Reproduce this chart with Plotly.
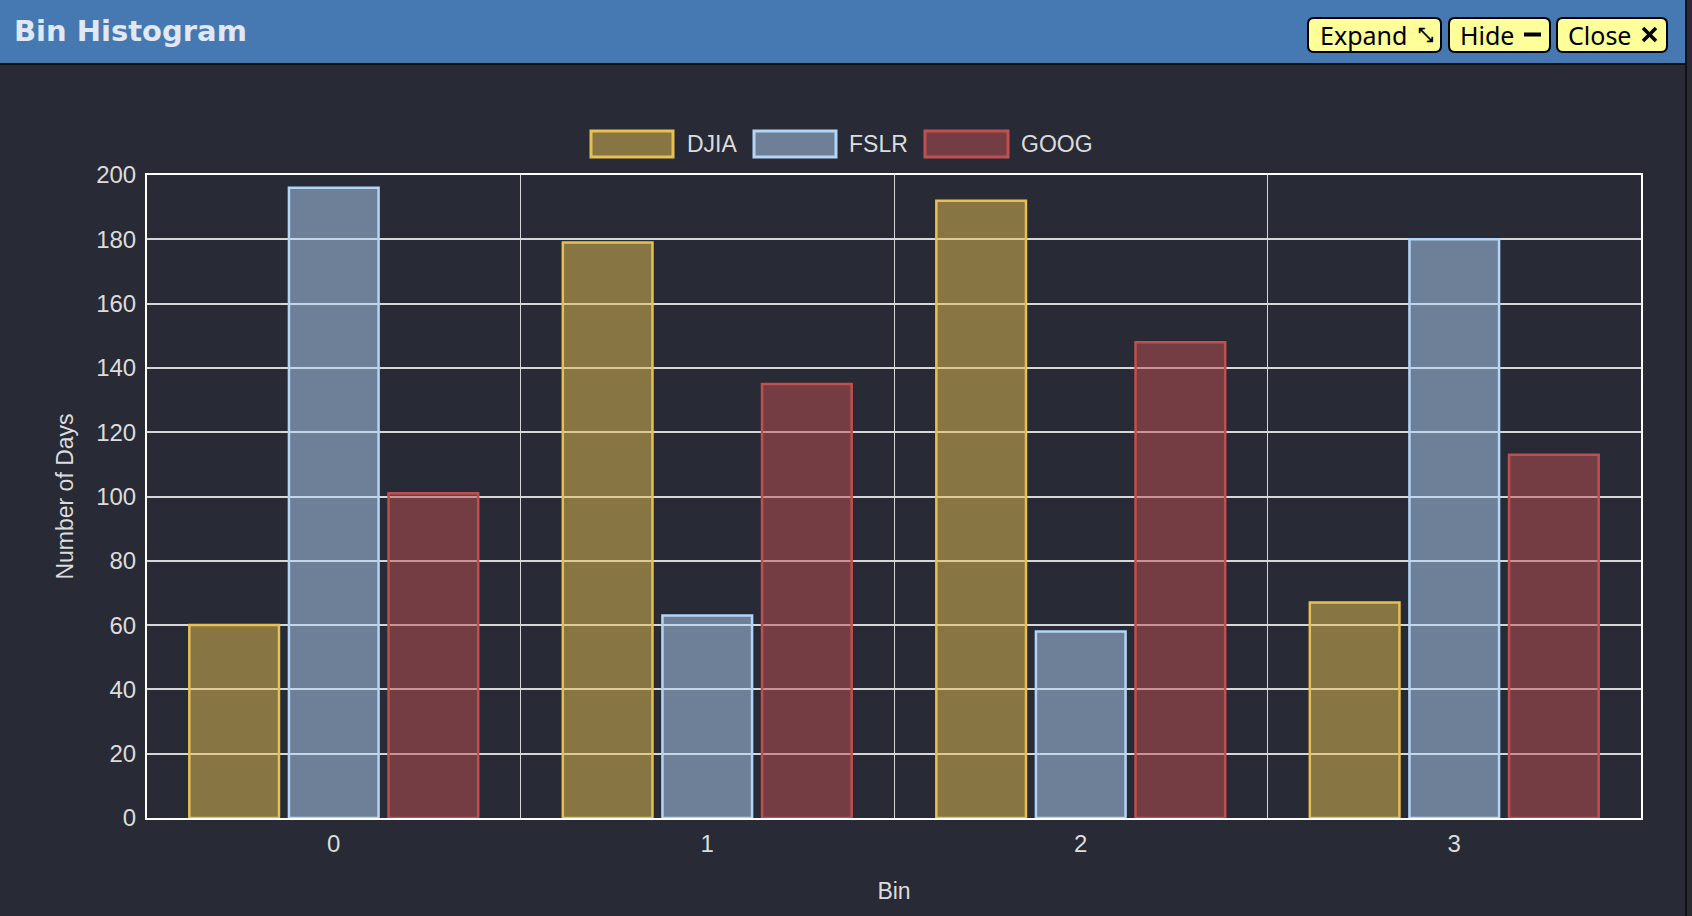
#!/usr/bin/env python3
import plotly.graph_objects as go

W, H = 1692, 916

bins = [0, 1, 2, 3]
bin_labels = ["0", "1", "2", "3"]
series_names = ["DJIA", "FSLR", "GOOG"]
djia_days = [60, 179, 192, 67]
fslr_days = [196, 63, 58, 180]
goog_days = [101, 135, 148, 113]
y_ticks = [0, 20, 40, 60, 80, 100, 120, 140, 160, 180, 200]

BG = "#282a36"
HEADER = "#4679b1"
GRID = "#d6d6da"
TEXT = "#dcdcdc"
FONT = "Liberation Sans, Arial, sans-serif"

line_colors = {"DJIA": "#e6c050", "FSLR": "#b3d5f7", "GOOG": "#c0504f"}

# pin the graph div to the top-left corner of the window
PIN_JS = """
var gd = document.getElementById('{plot_id}');
document.documentElement.style.overflow = 'hidden';
document.body.style.margin = '0';
document.body.style.overflow = 'hidden';
document.body.style.background = '#282a36';
gd.style.position = 'fixed';
gd.style.top = '0px';
gd.style.left = '0px';
"""


def fx(x):
    return x / W


def fy(y):
    return 1 - y / H


def rgba(hex_color, alpha):
    h = hex_color.lstrip("#")
    r, g, b = int(h[0:2], 16), int(h[2:4], 16), int(h[4:6], 16)
    return f"rgba({r},{g},{b},{alpha})"


def rounded_rect(x0, y0, x1, y1, r):
    # pixel box -> svg path in paper units
    pts = [
        f"M {fx(x0 + r)},{fy(y0)}",
        f"L {fx(x1 - r)},{fy(y0)}",
        f"Q {fx(x1)},{fy(y0)} {fx(x1)},{fy(y0 + r)}",
        f"L {fx(x1)},{fy(y1 - r)}",
        f"Q {fx(x1)},{fy(y1)} {fx(x1 - r)},{fy(y1)}",
        f"L {fx(x0 + r)},{fy(y1)}",
        f"Q {fx(x0)},{fy(y1)} {fx(x0)},{fy(y1 - r)}",
        f"L {fx(x0)},{fy(y0 + r)}",
        f"Q {fx(x0)},{fy(y0)} {fx(x0 + r)},{fy(y0)}",
        "Z",
    ]
    return " ".join(pts)


def add_line(fig, x0, y0, x1, y1, width):
    fig.add_shape(type="line", xref="paper", yref="paper",
                  x0=fx(x0), x1=fx(x1), y0=fy(y0), y1=fy(y1),
                  line=dict(color="#000000", width=width))


def add_header(fig):
    fig.add_shape(type="rect", xref="paper", yref="paper",
                  x0=0, x1=fx(1685), y0=fy(63), y1=1,
                  fillcolor=HEADER, line_width=0, layer="below")
    fig.add_shape(type="rect", xref="paper", yref="paper",
                  x0=0, x1=fx(1685), y0=fy(65), y1=fy(63),
                  fillcolor="#111111", line_width=0, layer="below")
    fig.add_shape(type="rect", xref="paper", yref="paper",
                  x0=fx(1685), x1=fx(1687), y0=0, y1=1,
                  fillcolor="#111111", line_width=0, layer="below")
    fig.add_annotation(text="<b>Bin Histogram</b>", xref="paper", yref="paper",
                       x=fx(12), y=fy(31), xanchor="left", yanchor="middle",
                       showarrow=False,
                       font=dict(family="DejaVu Sans, sans-serif", size=29, color="#dfe8f4"))

    buttons = [
        ("Expand", 1308, 1441, 1318),
        ("Hide", 1449, 1550, 1458),
        ("Close", 1557, 1667, 1566),
    ]
    for label, x0, x1, tx in buttons:
        fig.add_shape(type="path", xref="paper", yref="paper",
                      path=rounded_rect(x0, 18, x1, 52, 6),
                      fillcolor="#ffff99", line=dict(color="#000000", width=2))
        fig.add_annotation(text=label, xref="paper", yref="paper",
                           x=fx(tx), y=fy(35), xanchor="left", yanchor="middle",
                           showarrow=False,
                           font=dict(family="Noto Sans, sans-serif", size=25, color="#000000"))

    # button icons
    fig.add_annotation(text="<b>⤡</b>", xref="paper", yref="paper",
                       x=fx(1425), y=fy(34), xanchor="center", yanchor="middle",
                       showarrow=False,
                       font=dict(family="DejaVu Sans, sans-serif", size=19, color="#000000"))
    add_line(fig, 1524, 34.5, 1541, 34.5, 4)
    add_line(fig, 1643, 28, 1656, 41, 3.5)
    add_line(fig, 1643, 41, 1656, 28, 3.5)


def add_legend(fig):
    boxes = {"DJIA": (590, 674, 685), "FSLR": (753, 837, 847), "GOOG": (924, 1009, 1019)}
    for name in series_names:
        x0, x1, tx = boxes[name]
        fig.add_shape(type="rect", xref="paper", yref="paper",
                      x0=fx(x0 + 1), x1=fx(x1 - 1), y0=fy(157), y1=fy(131),
                      fillcolor=rgba(line_colors[name], 0.5),
                      line=dict(color=line_colors[name], width=3))
        fig.add_annotation(text=name, xref="paper", yref="paper",
                           x=fx(tx), y=fy(144), xanchor="left", yanchor="middle",
                           showarrow=False, font=dict(family=FONT, size=23, color=TEXT))


def make_histogram():
    fig = go.Figure()
    for name, days in zip(series_names, [djia_days, fslr_days, goog_days]):
        fig.add_trace(
            go.Bar(
                x=bins,
                y=days,
                name=name,
                marker=dict(color=rgba(line_colors[name], 0.5),
                            line=dict(color=line_colors[name], width=2.5)),
            )
        )

    fig.update_layout(
        width=W,
        height=H,
        autosize=False,
        margin=dict(l=0, r=0, t=0, b=0, pad=0),
        paper_bgcolor=BG,
        plot_bgcolor=BG,
        barmode="group",
        bargap=0.2,
        bargroupgap=0.1,
        showlegend=False,
        font=dict(family=FONT, color=TEXT, size=24),
    )
    fig.update_xaxes(
        domain=[fx(147), fx(1641)],
        range=[-0.5, 3.5],
        tickmode="array",
        tickvals=bins,
        ticktext=bin_labels,
        showgrid=False,
        ticks="",
        ticklabelstandoff=3,
        minor=dict(tick0=0.5, dtick=1, showgrid=True, gridcolor=GRID, gridwidth=1, ticks=""),
        showline=True,
        linecolor="#ffffff",
        linewidth=2,
        mirror=True,
        zeroline=False,
        automargin=False,
        title=dict(text="Bin", font=dict(size=23, color=TEXT), standoff=27),
        tickfont=dict(size=24, color=TEXT),
    )
    fig.update_yaxes(
        domain=[fy(818), fy(175)],
        range=[0, 200],
        tickmode="array",
        tickvals=y_ticks,
        showgrid=True,
        gridcolor=GRID,
        gridwidth=1.5,
        ticks="",
        ticklabelstandoff=4,
        showline=True,
        linecolor="#ffffff",
        linewidth=2,
        mirror=True,
        zeroline=False,
        automargin=False,
        title=dict(text="Number of Days", font=dict(size=23, color=TEXT), standoff=16),
        tickfont=dict(size=24, color=TEXT),
    )

    add_header(fig)
    add_legend(fig)
    return fig


def main():
    fig = make_histogram()
    fig.write_html("out.html", post_script=PIN_JS, config={"displayModeBar": False})


if __name__ == "__main__":
    main()
